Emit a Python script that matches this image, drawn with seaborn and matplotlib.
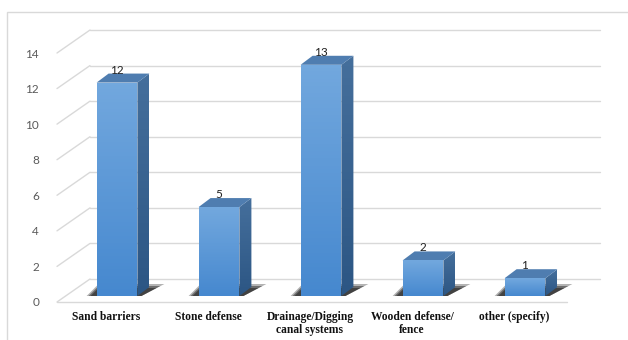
import numpy as np
import matplotlib
matplotlib.use("Agg")
import matplotlib.pyplot as plt
from matplotlib.transforms import ScaledTranslation
from matplotlib.patches import Polygon, Rectangle
from matplotlib.colors import LinearSegmentedColormap
import seaborn as sns

categories = ["Sand barriers", "Stone defense", "Drainage/Digging\ncanal systems",
              "Wooden defense/\nfence", "other (specify)"]
counts = [12, 5, 13, 2, 1]
y_ticks = [0, 2, 4, 6, 8, 10, 12, 14]

sns.set_theme(style="white")
plt.rcParams['font.family'] = ['Lato', 'DejaVu Sans']

W, H = 628, 340
fig = plt.figure(figsize=(W / 100, H / 100), dpi=100)
ax = fig.add_axes([66 / W, 44 / H, 510 / W, 249 / H])
ax.patch.set_visible(False)

sns.barplot(x=categories, y=counts, width=0.4, color="#5B9BD5", saturation=1,
            linewidth=0, ax=ax, zorder=4)
ax.set_xlim(-0.5, 4.5)
ax.set_ylim(0, 14)
for s in ax.spines.values():
    s.set_visible(False)
ax.set_xlabel("")
ax.set_ylabel("")


def off(dx, dy):
    # shift in pixels (dy up)
    return ScaledTranslation(dx / 100, dy / 100, fig.dpi_scale_trans)


# pixel -> data units
o = ax.transData.transform((0, 0))
ux = 1 / (ax.transData.transform((1, 0))[0] - o[0])
uy = 1 / (ax.transData.transform((0, 1))[1] - o[1])

# 3d walls: back wall shifted (+24, +17) px, front edge (-9, -6) px
grid_c = "#d9d9d9"
bx, by = 24 * ux, 17 * uy
fx, fy = -9 * ux, -6 * uy
for v in y_ticks:
    ax.plot([-0.5 + bx, 4.5 + bx], [v + by, v + by], color=grid_c, lw=1, zorder=0, clip_on=False)
    ax.plot([-0.5 + fx, -0.5 + bx], [v + fy, v + by], color=grid_c, lw=1, zorder=0, clip_on=False)
ax.plot([-0.5 + fx, 4.5 + fx], [fy, fy], color=grid_c, lw=1, zorder=0, clip_on=False)

dx, dy = 12 * ux, 9 * uy


def grad_fill(verts, c_bot, c_top, z):
    poly = Polygon(verts, closed=True, facecolor="none", edgecolor="none", zorder=z)
    ax.add_patch(poly)
    xs = [p[0] for p in verts]
    ys = [p[1] for p in verts]
    cmap = LinearSegmentedColormap.from_list("g", [c_bot, c_top])
    im = ax.imshow(np.linspace(0, 1, 64).reshape(-1, 1), cmap=cmap, origin="lower",
                   extent=[min(xs), max(xs), min(ys), max(ys)], aspect="auto", zorder=z)
    im.set_clip_path(poly)


for i, p in enumerate(ax.patches[:len(counts)]):
    x0 = p.get_x()
    x1 = x0 + p.get_width()
    h = p.get_height()
    # floor shadow
    for k, a in [(0, 0.35), (2, 0.5), (4, 0.6)]:
        ax.add_patch(Polygon([(x0 - (10 - k) * ux, 0), (x1 + 4 * ux, 0),
                              (x1 + (27 - 2 * k) * ux, (12 - k) * uy), (x0 + 2 * ux, (12 - k) * uy)],
                             closed=True, facecolor="#262626", edgecolor="none", alpha=a, zorder=1))
    # front face gradient
    grad_fill([(x0, 0), (x1, 0), (x1, h), (x0, h)], "#4688cf", "#72a8de", 4)
    # side face
    grad_fill([(x1, 0), (x1 + dx, dy), (x1 + dx, h + dy), (x1, h)], "#2c5684", "#456f9c", 3)
    # top face
    ax.add_patch(Polygon([(x0, h), (x1, h), (x1 + dx, h + dy), (x0 + dx, h + dy)],
                         closed=True, facecolor="#4f7db0", edgecolor="none", zorder=3))
    ax.annotate(str(counts[i]), (i, h), xytext=(0, 6.5), textcoords="offset points",
                ha="center", va="baseline", fontsize=8.5, color="#222222", zorder=6)

ax.set_xlim(-0.5, 4.5)
ax.set_ylim(0, 14)

ax.set_yticks(y_ticks)
ax.tick_params(axis="y", length=0, pad=19.4, labelsize=8.5, labelcolor="#595959")
for lab in ax.get_yticklabels():
    lab.set_transform(lab.get_transform() + off(0, -6))

ax.tick_params(axis="x", length=0, pad=11)
for lab in ax.get_xticklabels():
    lab.set_fontfamily(["Liberation Serif", "DejaVu Serif"])
    lab.set_fontweight("bold")
    lab.set_fontsize(8.3)
    lab.set_color("#111111")
    lab.set_linespacing(1.05)
    lab.set_transform(lab.get_transform() + off(-11, 0))

fig.add_artist(Rectangle((7 / W, -0.05), 1.0, (H - 12) / H + 0.05, transform=fig.transFigure,
                         fill=False, edgecolor="#d9d9d9", lw=1))

fig.savefig("out.png", dpi=100)
